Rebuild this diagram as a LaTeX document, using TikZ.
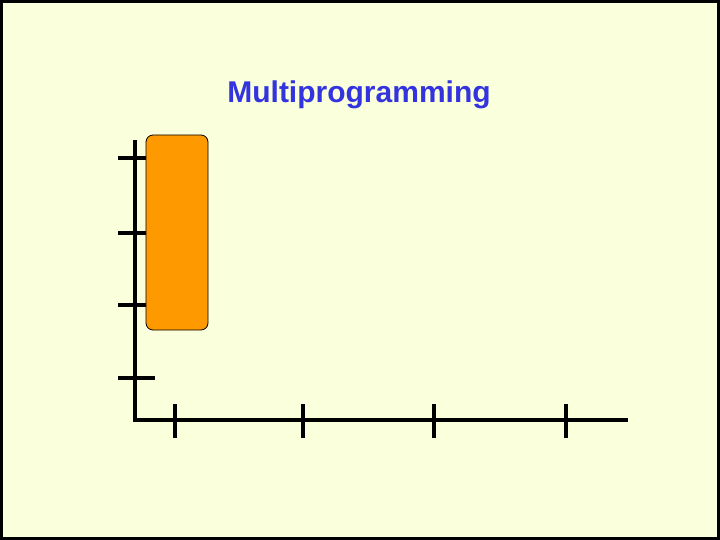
\documentclass[tikz,border=0pt]{standalone}
\usepackage{fontspec}
\setmainfont{Liberation Sans}
\definecolor{bg}{HTML}{FAFFDC}
\definecolor{titleblue}{HTML}{3333E0}
\definecolor{procorange}{HTML}{FF9900}
\begin{document}
\begin{tikzpicture}[x=1pt,y=-1pt,
  axis/.style={line width=4pt},
  proc/.style={draw=black,line width=0.8pt,fill=procorange,rounded corners=7pt}]
\useasboundingbox (0,0) rectangle (720,540);
\fill[bg] (0,0) rectangle (720,540);
\draw[line width=3pt] (1.5,1.5) rectangle (718.5,538.5);
\node[text=titleblue,font=\bfseries\fontsize{30}{36}\selectfont] (title) at (359,95) {Multiprogramming};
\coordinate (o) at (135,420);
\coordinate (ytop) at (135,140);
\coordinate (xend) at (628,420);
\draw[axis] (ytop) -- (o) -- (xend);
\foreach \y in {158,233,305,378} \draw[axis] (118,\y) -- (155,\y);
\foreach \x in {175,303,434,566} \draw[axis] (\x,404) -- (\x,438);
\draw[proc] (146,135) rectangle (208,330);
\end{tikzpicture}
\end{document}
